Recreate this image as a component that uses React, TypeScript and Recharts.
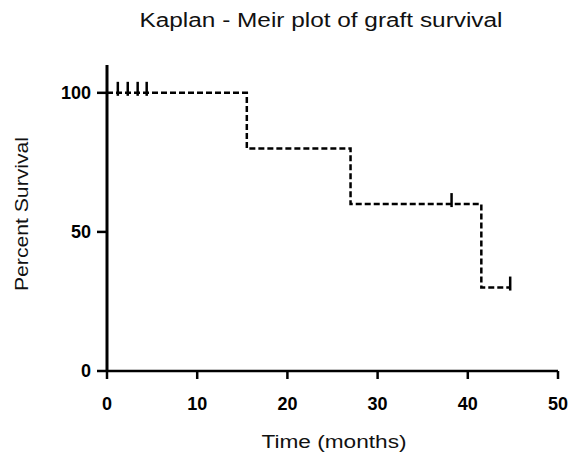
import { ComposedChart, Line, Scatter, XAxis, YAxis, Label } from 'recharts';

// Kaplan-Meier steps (months, percent surviving)
const stepMonths = [0, 15.5, 27, 41.5, 44.7];
const stepSurvival = [100, 80, 60, 30, 30];

// censored observations
const censorMonths = [1.2, 2.3, 3.4, 4.4, 38.2, 44.7];
const censorSurvival = [100, 100, 100, 100, 60, 30];

const xTicks = [0, 10, 20, 30, 40, 50];
const yTicks = [0, 50, 100];

const curveData = stepMonths.map((t, i) => ({ t, s: stepSurvival[i] }));
const censorData = censorMonths.map((t, i) => ({ t, s: censorSurvival[i] }));

const FONT = '"Liberation Sans", Arial, sans-serif';

const CensorMark = (props: any) => {
  const { cx, cy } = props;
  return <line x1={cx} y1={cy - 11} x2={cx} y2={cy + 3} stroke="#000" strokeWidth={2.5} />;
};

export default function App() {
  return (
    <div style={{ position: 'absolute', left: 0, top: 0, width: 571, height: 459, background: '#fff', fontFamily: FONT }}>
      <svg width={571} height={40} style={{ position: 'absolute', left: 0, top: 0 }}>
        <text x={321} y={27} textAnchor="middle" fontSize={20} fill="#111" fontFamily={FONT} textLength={363} lengthAdjust="spacingAndGlyphs">
          Kaplan - Meir plot of graft survival
        </text>
      </svg>
      <ComposedChart width={571} height={459} margin={{ top: 65, right: 13, bottom: 38, left: 0 }}>
        <XAxis
          dataKey="t"
          type="number"
          domain={[0, 50]}
          ticks={xTicks}
          height={50}
          axisLine={{ stroke: '#000', strokeWidth: 2.5 }}
          tickLine={{ stroke: '#000', strokeWidth: 2.5 }}
          tickSize={8}
          tickMargin={18}
          tick={{ fill: '#000', fontSize: 18, fontWeight: 'bold', fontFamily: FONT }}
        >
          <Label
            content={() => (
              <text x={334} y={448} textAnchor="middle" fontSize={18} fill="#111" fontFamily={FONT} textLength={145} lengthAdjust="spacingAndGlyphs">
                Time (months)
              </text>
            )}
          />
        </XAxis>
        <YAxis
          dataKey="s"
          type="number"
          domain={[0, 110]}
          ticks={yTicks}
          width={107}
          axisLine={{ stroke: '#000', strokeWidth: 3 }}
          tickLine={{ stroke: '#000', strokeWidth: 2.5 }}
          tickSize={10}
          tickMargin={6}
          tick={{ fill: '#000', fontSize: 18, fontWeight: 'bold', fontFamily: FONT }}
        >
          <Label
            content={() => (
              <text x={28} y={214} transform="rotate(-90 28 214)" textAnchor="middle" fontSize={18} fill="#111" fontFamily={FONT} textLength={154} lengthAdjust="spacingAndGlyphs">
                Percent Survival
              </text>
            )}
          />
        </YAxis>
        <Line
          data={curveData}
          dataKey="s"
          type="stepAfter"
          stroke="#000"
          strokeWidth={2.5}
          strokeDasharray="6 3"
          dot={false}
          activeDot={false}
          isAnimationActive={false}
        />
        <Scatter data={censorData} dataKey="s" shape={CensorMark} isAnimationActive={false} />
      </ComposedChart>
    </div>
  );
}
